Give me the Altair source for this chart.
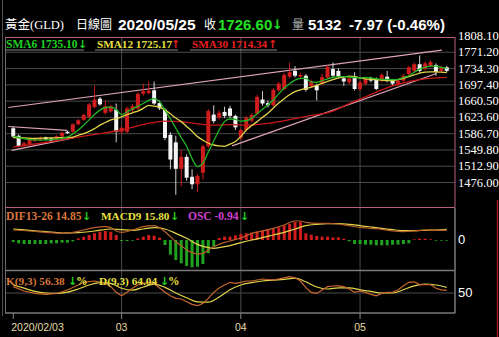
import altair as alt
import pandas as pd

# ---------------- data ----------------
OPEN = [1599, 1582, 1559, 1562, 1570, 1572, 1578, 1576, 1574, 1580,
        1591, 1591, 1608, 1618, 1625, 1647, 1666, 1634, 1637, 1641,
        1591, 1591, 1640, 1644, 1677, 1679, 1685, 1656, 1641, 1584,
        1567, 1507, 1534, 1489, 1472, 1498, 1558, 1630, 1623, 1636,
        1644, 1627, 1577, 1595, 1616, 1632, 1664, 1656, 1651, 1685,
        1688, 1716, 1729, 1716, 1718, 1694, 1696, 1700, 1714, 1733,
        1729, 1712, 1703, 1717, 1688, 1700, 1712, 1711, 1707, 1716,
        1707, 1697, 1707, 1722, 1729, 1744, 1733, 1740, 1742, 1729, 1737]
HIGH = [1603, 1585, 1568, 1577, 1578, 1580, 1580, 1579, 1583, 1591,
        1594, 1610, 1620, 1632, 1656, 1696, 1670, 1662, 1652, 1655,
        1604, 1648, 1654, 1680, 1700, 1705, 1705, 1662, 1645, 1590,
        1582, 1550, 1540, 1506, 1495, 1562, 1642, 1651, 1640, 1648,
        1650, 1630, 1598, 1627, 1633, 1674, 1683, 1662, 1690, 1704,
        1724, 1748, 1740, 1725, 1722, 1709, 1700, 1722, 1742, 1748,
        1735, 1716, 1716, 1726, 1707, 1715, 1716, 1714, 1724, 1729,
        1711, 1711, 1722, 1740, 1748, 1764, 1750, 1753, 1746, 1741, 1740]
LOW = [1577, 1556, 1556, 1560, 1568, 1570, 1571, 1569, 1572, 1578,
       1586, 1589, 1606, 1616, 1622, 1644, 1650, 1630, 1634, 1567,
       1585, 1588, 1636, 1640, 1673, 1676, 1652, 1640, 1572, 1506,
       1448, 1468, 1480, 1461, 1454, 1483, 1555, 1610, 1619, 1622,
       1622, 1595, 1572, 1592, 1612, 1628, 1650, 1646, 1648, 1682,
       1685, 1712, 1714, 1712, 1682, 1690, 1662, 1697, 1710, 1714,
       1712, 1695, 1699, 1684, 1684, 1696, 1703, 1685, 1703, 1703,
       1696, 1694, 1704, 1719, 1726, 1725, 1730, 1737, 1718, 1726, 1726]
CLOSE = [1580, 1559, 1565, 1574, 1575, 1577, 1574, 1571, 1581, 1589,
         1588, 1608, 1617, 1629, 1653, 1664, 1653, 1649, 1649, 1591,
         1600, 1644, 1649, 1677, 1683, 1684, 1655, 1644, 1577, 1528,
         1507, 1534, 1487, 1472, 1491, 1558, 1638, 1615, 1634, 1627,
         1627, 1601, 1595, 1623, 1629, 1670, 1655, 1651, 1686, 1700,
         1720, 1726, 1718, 1720, 1686, 1705, 1685, 1715, 1738, 1718,
         1716, 1705, 1712, 1688, 1703, 1711, 1707, 1688, 1720, 1707,
         1700, 1707, 1718, 1737, 1744, 1729, 1746, 1749, 1727, 1737, 1729]

SMA6 = [(0, 1581), (1, 1578), (3, 1573), (5, 1572), (7, 1573), (9, 1576), (10, 1579),
        (11, 1586), (12, 1595), (13, 1606), (14, 1618), (15, 1630), (16, 1640),
        (17, 1646), (18, 1647), (19, 1641), (20, 1630), (21, 1636), (22, 1643),
        (23, 1649), (24, 1655), (25, 1662), (26, 1666), (27, 1659), (28, 1640),
        (29, 1620), (30, 1599), (31, 1578), (32, 1558), (33, 1530), (34, 1512),
        (35, 1520), (36, 1545), (37, 1570), (38, 1595), (39, 1614), (40, 1620),
        (41, 1619), (42, 1615), (43, 1616), (44, 1622), (45, 1632), (46, 1642),
        (47, 1652), (48, 1663), (49, 1677), (50, 1690), (51, 1700), (52, 1708),
        (53, 1712), (54, 1712), (55, 1704), (56, 1703), (57, 1707), (58, 1711),
        (59, 1714), (60, 1716), (61, 1716), (62, 1715), (63, 1714), (64, 1713),
        (65, 1714), (66, 1713), (67, 1711), (68, 1710), (69, 1710), (70, 1709),
        (71, 1710), (72, 1714), (73, 1718), (74, 1726), (75, 1733), (76, 1737),
        (77, 1740), (78, 1740), (79, 1737), (80, 1735.1)]
SMA12 = [(0, 1578), (2, 1577), (4, 1576), (6, 1577), (8, 1577), (10, 1578), (11, 1579),
         (12, 1583), (13, 1587), (14, 1592), (15, 1598), (16, 1606), (17, 1612),
         (18, 1618), (19, 1621), (20, 1625), (21, 1630), (22, 1634), (23, 1638),
         (24, 1644), (25, 1651), (26, 1649), (27, 1647), (28, 1640), (29, 1632),
         (30, 1622), (31, 1614), (32, 1603), (33, 1592), (34, 1580), (35, 1572),
         (36, 1565), (37, 1561), (38, 1559), (39, 1558), (40, 1563), (41, 1569),
         (42, 1580), (43, 1595), (44, 1605), (45, 1614), (46, 1624), (47, 1633),
         (48, 1645), (49, 1656), (50, 1666), (51, 1675), (52, 1682), (53, 1686),
         (54, 1689), (55, 1692), (56, 1696), (57, 1701), (58, 1705), (59, 1709),
         (60, 1713), (61, 1715), (62, 1717), (63, 1716), (64, 1713), (65, 1711),
         (66, 1710), (67, 1709), (68, 1708), (69, 1707), (70, 1707), (71, 1709),
         (72, 1712), (73, 1716), (74, 1720), (75, 1724), (76, 1726), (77, 1727),
         (78, 1727), (79, 1726), (80, 1725.2)]
SMA30 = [(0, 1556), (5, 1565), (10, 1575), (15, 1585), (20, 1595), (25, 1610),
         (28, 1615), (31, 1614), (34, 1609), (37, 1606), (40, 1607), (43, 1606),
         (47, 1610), (52, 1621), (55, 1628), (59, 1638), (62, 1655), (65, 1670),
         (68, 1686), (70, 1695), (72, 1702), (75, 1709), (78, 1713), (80, 1714.3)]

TRENDS = [("up", -0.9, 1646), ("up", 79.1, 1776),
          ("low", 40.4, 1559), ("low", 78.1, 1723),
          ("fa", -0.9, 1603), ("fa", 9.9, 1594),
          ("fb", -0.3, 1549), ("fb", 11.1, 1577)]

PRICE_TICKS = [1476.00, 1512.90, 1549.80, 1586.70, 1623.60,
               1660.50, 1697.40, 1734.30, 1771.20, 1808.10]

OSC = [-3, -5, -6, -6, -6, -6, -6, -5, -5, -4, -4, -2,
       2.5, 5, 7.5, 10, 12.5, 13.5, 12.5, 7.5,
       -1.5, -1.5, -1,
       2.5, 5, 7.5, 6.5, 3.5,
       -7.5, -22, -30, -35, -39, -41, -40, -36, -20, -10,
       3, 5, 5, 7, 9, 10, 11, 13, 15, 16, 17, 19, 22, 24, 27, 27,
       10, 8, 6, 5, 5, 4, 4, 2,
       -2, -6, -6, -7, -7, -8, -8, -8, -7, -7, -6, -5,
       1, 2, 2, 1, -1, -1, -1]
DIF = [(0, 15), (3, 13.5), (6, 11.5), (9, 10), (11, 11.5), (13, 15), (15, 18.5),
       (17, 20), (18, 18.5), (19, 13.5), (20, 11.5), (22, 15), (24, 20), (26, 21.5),
       (27, 18.5), (28, 12.5), (29, 5), (30, -2.5), (31, -8.5), (32, -15), (33, -19),
       (34, -21), (35, -20), (36, -15), (37, -10), (38, -6.5), (39, -3.5), (40, -1.5),
       (42, 3), (44, 10), (46, 13.5), (48, 17.5), (50, 22.5), (52, 28.5), (53, 28.5),
       (54, 26.5), (56, 25), (58, 25), (60, 24), (62, 21.5), (64, 19), (66, 17.5),
       (68, 16), (70, 13.5), (72, 12.5), (74, 13.5), (76, 15), (78, 14.5), (80, 14.85)]
MACD = [(0, 16.5), (3, 14.5), (6, 12.5), (9, 10.5), (12, 11), (15, 13.5), (18, 16.5),
        (20, 15.5), (22, 14.5), (24, 16.5), (26, 18.5), (28, 16.5), (30, 10), (32, 2.5),
        (34, -6.5), (36, -11.5), (37, -12.5), (38, -11.5), (40, -8.5), (42, -4), (44, 0),
        (46, 3.5), (48, 7.5), (50, 11.5), (52, 16.5), (54, 21.5), (56, 23.5), (58, 24.5),
        (60, 24.5), (62, 23.5), (64, 21.5), (66, 19.5), (68, 17.5), (70, 15.5), (72, 14),
        (74, 14), (76, 14.5), (78, 15), (80, 15.8)]
K = [(0, 65.8), (2, 55), (4, 49), (6, 46.7), (8, 48.8), (10, 57.5), (12, 70), (13, 76.7),
     (15, 80), (16, 77), (17, 74), (18, 65.8), (19, 51.7), (20, 43), (21, 51.7), (22, 61.7),
     (23, 70), (24, 74), (25, 76.7), (26, 73.3), (27, 62.5), (28, 51.7), (29, 43), (30, 36.7),
     (31, 35), (32, 28.3), (33, 21.7), (34, 18.3), (35, 24), (36, 36.7), (37, 51.7), (38, 62.5),
     (39, 70), (40, 76.7), (41, 74), (42, 76.7), (43, 80), (44, 80), (46, 85), (48, 82.5),
     (50, 88), (51, 90.8), (52, 88), (53, 80), (54, 63.3), (55, 51.7), (56, 49), (57, 57.5),
     (58, 65.8), (59, 67.5), (60, 68), (61, 65.8), (62, 60), (63, 51.7), (64, 55), (65, 51.7),
     (66, 46.7), (67, 43), (68, 48.8), (69, 51.7), (70, 51.7), (71, 57.5), (72, 68), (73, 76.7),
     (74, 78), (75, 71), (76, 71), (77, 71), (78, 61.7), (79, 58), (80, 56.4)]
D = [(0, 70), (2, 62), (4, 54), (6, 50), (8, 49), (10, 52), (12, 60), (14, 70), (16, 76),
     (18, 74), (20, 62), (22, 57), (24, 65), (26, 72), (28, 64), (30, 50), (32, 38), (34, 28),
     (36, 27), (38, 40), (40, 58), (42, 70), (44, 76), (46, 80), (48, 82), (50, 84), (52, 87),
     (54, 78), (56, 65), (58, 60), (60, 63), (62, 63), (64, 58), (66, 54), (68, 50), (70, 50),
     (72, 58), (74, 68), (76, 72), (78, 70), (80, 64.04)]

MONTH_IDX = [0, 20, 42, 64]
MONTH_LBL = ["2020/02/03", "03", "04", "05"]

# ---------------- scales ----------------
XS = alt.Scale(domain=[-0.5, 80.5], range=[5.53, 454.47], nice=False, zero=False)
PS = alt.Scale(domain=[1476.0, 1808.1], range=[182.5, 36.0], nice=False, zero=False)
MS = alt.Scale(domain=[-45, 49.5], range=[270, 207], nice=False, zero=False)
KS = alt.Scale(domain=[0, 100], range=[313, 273], nice=False, zero=False)

RED = "#d01c1c"
WHITE = "#f4f4f4"
GREEN = "#22b422"
YEL = "#e2d44a"
BROWN = "#d8763a"
SERIF = "Liberation Serif"
SANS = "Liberation Sans"
ARW = "DejaVu Sans"
CJK = "'Liberation Serif', 'Noto Sans CJK TC'"

ONE = pd.DataFrame({"a": [0]})


def X(field="i"):
    return alt.X(f"{field}:Q", scale=XS, axis=None)


def pts_df(pts):
    return pd.DataFrame({"i": [p[0] for p in pts], "v": [p[1] for p in pts]})


def txt(s, x, y, color, size=12, font=SERIF, weight="normal", align="left"):
    return alt.Chart(ONE).mark_text(text=s, align=align, baseline="middle", color=color,
                                    fontSize=size, font=font, fontWeight=weight).encode(
        x=alt.value(x), y=alt.value(y))


def hline(x1, x2, y, color, w=1.0):
    return alt.Chart(ONE).mark_rule(color=color, strokeWidth=w).encode(
        x=alt.value(x1), x2=alt.value(x2), y=alt.value(y))


def vline(x, y1, y2, color, w=1.0):
    return alt.Chart(ONE).mark_rule(color=color, strokeWidth=w).encode(
        x=alt.value(x), y=alt.value(y1), y2=alt.value(y2))


cdf = pd.DataFrame({"i": list(range(len(OPEN))), "o": OPEN, "h": HIGH, "l": LOW, "c": CLOSE})
cdf["col"] = [RED if c >= o else WHITE for o, c in zip(OPEN, CLOSE)]
cdf["wcol"] = [RED if c >= o else "#d0d0d0" for o, c in zip(OPEN, CLOSE)]

layers = []

# grid of price panel
tick_df = pd.DataFrame({"t": PRICE_TICKS[:-1]})
layers.append(alt.Chart(tick_df).mark_rule(color="#4a4a4a", strokeWidth=1).encode(
    y=alt.Y("t:Q", scale=PS, axis=None), x=alt.value(5.5), x2=alt.value(455)))
# KD 50 line
layers.append(alt.Chart(pd.DataFrame({"v": [50]})).mark_rule(color="#4a4a4a").encode(
    y=alt.Y("v:Q", scale=KS, axis=None), x=alt.value(5.5), x2=alt.value(455)))
# month vertical lines and ticks
mdf = pd.DataFrame({"i": MONTH_IDX, "lbl": MONTH_LBL})
layers.append(alt.Chart(mdf[mdf.i > 0]).mark_rule(color="#4a4a4a").encode(
    x=X(), y=alt.value(37), y2=alt.value(313)))
layers.append(alt.Chart(mdf).mark_rule(color="#8a8a8a").encode(
    x=X(), y=alt.value(313), y2=alt.value(319)))

# borders
layers += [
    vline(2.5, 0, 316, "#505050"),
    vline(5.5, 37, 313, "#6a6a6a"),
    hline(5, 455, 37.5, "#b8607c"),
    hline(5, 455, 207.5, "#b8607c"),
    vline(455, 37, 207.5, "#b8607c"),
    hline(5, 455, 270.5, "#7a7a7a", 1.5),
    hline(5, 455, 313, "#7a7a7a", 1.5),
    vline(455, 208, 313, "#7a7a7a", 1.5),
    vline(497.5, 200, 337, "#a01818", 1.5),
]

# trend lines
tdf = pd.DataFrame({"seg": [t[0] for t in TRENDS], "i": [t[1] for t in TRENDS],
                    "p": [t[2] for t in TRENDS]})
layers.append(alt.Chart(tdf).mark_line(color="#e0a4b8", strokeWidth=1.2).encode(
    x=X(), y=alt.Y("p:Q", scale=PS, axis=None), detail="seg:N"))

# candles
layers.append(alt.Chart(cdf).mark_rule(strokeWidth=1).encode(
    x=X(), y=alt.Y("l:Q", scale=PS, axis=None), y2="h:Q",
    color=alt.Color("wcol:N", scale=None)))
layers.append(alt.Chart(cdf).mark_bar(size=4).encode(
    x=X(), y=alt.Y("o:Q", scale=PS, axis=None), y2="c:Q",
    color=alt.Color("col:N", scale=None)))

# moving averages
for pts, colr in [(SMA30, "#c81818"), (SMA12, YEL), (SMA6, GREEN)]:
    layers.append(alt.Chart(pts_df(pts)).mark_line(color=colr, strokeWidth=1.3,
                                                  interpolate="monotone").encode(
        x=X(), y=alt.Y("v:Q", scale=PS, axis=None)))

# MACD panel
odf = pd.DataFrame({"i": list(range(len(OSC))), "v": OSC})
odf["col"] = [RED if v >= 0 else "#1fa01f" for v in OSC]
layers.append(alt.Chart(odf).mark_bar(size=3).encode(
    x=X(), y=alt.Y("v:Q", scale=MS, axis=None), y2=alt.datum(0),
    color=alt.Color("col:N", scale=None)))
layers.append(alt.Chart(pts_df(MACD)).mark_line(color=YEL, strokeWidth=1.2,
                                               interpolate="monotone").encode(
    x=X(), y=alt.Y("v:Q", scale=MS, axis=None)))
layers.append(alt.Chart(pts_df(DIF)).mark_line(color="#b8602c", strokeWidth=1.2,
                                              interpolate="monotone").encode(
    x=X(), y=alt.Y("v:Q", scale=MS, axis=None)))

# KD panel
layers.append(alt.Chart(pts_df(D)).mark_line(color=YEL, strokeWidth=1.2,
                                            interpolate="monotone").encode(
    x=X(), y=alt.Y("v:Q", scale=KS, axis=None)))
layers.append(alt.Chart(pts_df(K)).mark_line(color="#c8662e", strokeWidth=1.2).encode(
    x=X(), y=alt.Y("v:Q", scale=KS, axis=None)))

# axis labels
layers.append(alt.Chart(pd.DataFrame({"t": PRICE_TICKS})).mark_text(
    align="left", baseline="middle", color="white", fontSize=12.5, font=SERIF).encode(
    x=alt.value(458), y=alt.Y("t:Q", scale=PS, axis=None), text=alt.Text("t:Q", format=".2f")))
layers.append(alt.Chart(pd.DataFrame({"v": [0]})).mark_text(
    align="left", baseline="middle", color="white", fontSize=13, font=SANS).encode(
    x=alt.value(458), y=alt.Y("v:Q", scale=MS, axis=None), text=alt.Text("v:Q")))
layers.append(alt.Chart(pd.DataFrame({"v": [50]})).mark_text(
    align="left", baseline="middle", color="white", fontSize=13, font=SANS).encode(
    x=alt.value(458), y=alt.Y("v:Q", scale=KS, axis=None), text=alt.Text("v:Q")))
layers.append(alt.Chart(mdf[mdf.i == 0]).mark_text(
    align="left", baseline="middle", color="#e6dca8", fontSize=10.5, font=SANS, dx=-2).encode(
    x=X(), y=alt.value(327.5), text="lbl:N"))
layers.append(alt.Chart(mdf[mdf.i > 0]).mark_text(
    align="center", baseline="middle", color="#e6dca8", fontSize=10.5, font=SANS).encode(
    x=X(), y=alt.value(327.5), text="lbl:N"))

# header
layers += [
    txt("黃金(GLD)", 5, 25, "white", 12.5, CJK),
    txt("日線圖", 76, 25, "white", 12, CJK),
    txt("2020/05/25", 118, 25, "white", 15.5, SANS, "bold"),
    txt("收", 204, 25, "white", 12, CJK),
    txt("1726.60", 218, 25, "#22e022", 15, SANS, "bold"),
    txt("↓", 272, 25, "#22e022", 13, ARW, "bold"),
    txt("量", 292, 25, "#b0b0b0", 12, CJK),
    txt("5132", 308, 25, "white", 15, SANS, "bold"),
    txt("-7.97 (-0.46%)", 349, 25, "white", 15, SANS, "bold"),
]
# MA legend
layers += [
    hline(5, 84, 50, "#8a8a8a"), hline(95, 178, 50, "#8a8a8a"), hline(190, 277, 50, "#8a8a8a"),
    txt("SMA6 1735.10", 6, 44.5, "#22d022", 11.5, SERIF, "bold"),
    txt("↓", 78, 44.5, "#22d022", 11, ARW, "bold"),
    txt("SMA12 1725.17", 97, 44.5, "#e8e040", 11.2, SERIF, "bold"),
    txt("↑", 171, 44.5, "#e82020", 11, ARW, "bold"),
    txt("SMA30 1714.34", 192, 44.5, "#e82020", 11.2, SERIF, "bold"),
    txt("↑", 268, 44.5, "#e82020", 11, ARW, "bold"),
]
# MACD legend
layers += [
    txt("DIF13-26 14.85", 6, 217, BROWN, 11.5, SERIF, "bold"),
    txt("↓", 82, 217, "#22d022", 11, ARW, "bold"),
    txt("MACD9 15.80", 101, 217, "#e8e040", 11.2, SERIF, "bold"),
    txt("↓", 170, 217, "#22d022", 11, ARW, "bold"),
    txt("OSC -0.94", 188, 217, "#d040d0", 11.5, SERIF, "bold"),
    txt("↓", 240, 217, "#22d022", 11, ARW, "bold"),
]
# KD legend
layers += [
    txt("K(9,3) 56.38", 6, 282, BROWN, 11.3, SERIF, "bold"),
    txt("↓", 68, 282, "#22d022", 11, ARW, "bold"),
    txt("%", 76, 282, "#e8e040", 11.5, SERIF, "bold"),
    txt("D(9,3) 64.04", 99, 282, "#e8e040", 11.3, SERIF, "bold"),
    txt("↓", 160, 282, "#22d022", 11, ARW, "bold"),
    txt("%", 168, 282, "#e8e040", 11.5, SERIF, "bold"),
]

chart = alt.layer(*layers).resolve_scale(y="independent").properties(
    width=499, height=337, padding=0,
    autosize=alt.AutoSizeParams(type="none"),
    background="#000000",
).configure_view(stroke=None)

chart.save("out.html", embed_options={"renderer": "svg", "actions": False})
